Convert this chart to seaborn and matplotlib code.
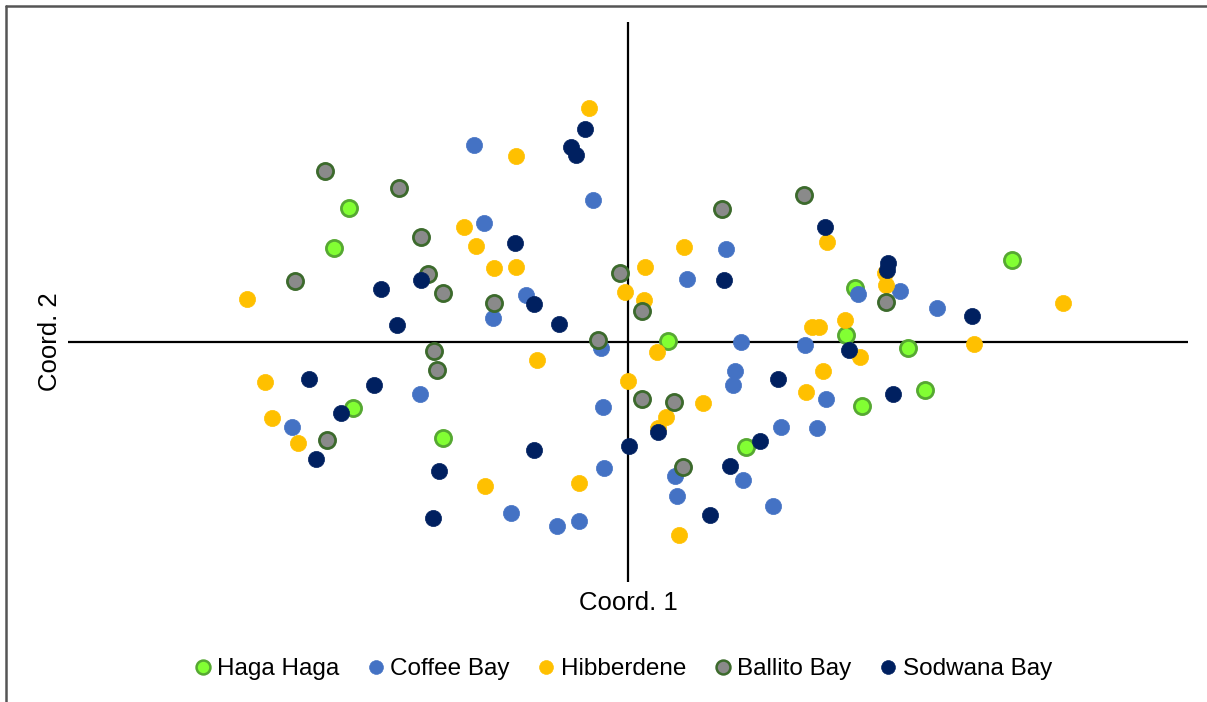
import numpy as np
import pandas as pd
import matplotlib
matplotlib.use("Agg")
import matplotlib.pyplot as plt
from matplotlib.lines import Line2D
import seaborn as sns

sns.set_theme(style="white")
plt.rcParams["font.family"] = ["Liberation Sans", "DejaVu Sans"]
plt.rcParams["text.color"] = "black"

sites = ["Haga Haga", "Coffee Bay", "Hibberdene", "Ballito Bay", "Sodwana Bay"]

# PCoA scores (Coord. 1, Coord. 2) per site
haga_x = [-2.79, -2.94, 3.84, 2.27, 2.18, 0.40, 2.80, 2.97, 2.34, 1.18, -2.75, -1.85]
haga_y = [1.34, 0.94, 0.82, 0.54, 0.07, 0.01, -0.06, -0.48, -0.64, -1.05, -0.66, -0.96]

coffee_x = [-1.54, -0.35, -1.44, -1.02, -1.35, -0.27, 0.98, 0.59, 2.30, 2.72, 3.09,
            1.13, 1.77, -2.08, -3.36, -0.25, -0.24, -1.17, -0.71, -0.49, 1.07, 1.05,
            1.98, 1.53, 1.89, 0.47, 1.15, 0.49, 1.45]
coffee_y = [1.97, 1.42, 1.19, 0.47, 0.24, -0.06, 0.93, 0.63, 0.48, 0.51, 0.34, 0.00,
            -0.03, -0.52, -0.85, -0.65, -1.26, -1.71, -1.84, -1.79, -0.29, -0.43,
            -0.57, -0.85, -0.86, -1.34, -1.38, -1.54, -1.64]

hibber_x = [-0.39, -1.12, -1.64, -1.52, -1.34, -1.12, -3.81, -0.03, 0.56, 0.17, 0.16,
            1.99, 2.57, 2.58, 4.35, 2.17, 1.84, 1.91, 0.29, 2.32, 3.46, 1.95, 1.78,
            0.75, 0.00, 0.38, 0.30, 0.51, -3.63, -3.56, -3.30, -0.91, -1.43, -0.49]
hibber_y = [2.34, 1.86, 1.15, 0.96, 0.74, 0.75, 0.43, 0.50, 0.95, 0.75, 0.42, 1.00,
            0.69, 0.57, 0.39, 0.22, 0.15, 0.15, -0.10, -0.15, -0.02, -0.29, -0.50,
            -0.61, -0.39, -0.75, -0.86, -1.93, -0.40, -0.76, -1.01, -0.18, -1.44, -1.41]

ballito_x = [-3.03, -2.29, -2.07, -2.00, -1.85, -1.34, -3.33, -0.08, -0.30, 0.94,
             1.76, 0.14, 2.58, -1.94, -1.91, -3.01, 0.14, 0.46, 0.55]
ballito_y = [1.71, 1.54, 1.05, 0.68, 0.49, 0.39, 0.61, 0.69, 0.02, 1.33, 1.47, 0.31,
             0.40, -0.09, -0.28, -0.98, -0.57, -0.60, -1.25]

sodwana_x = [-0.43, -0.57, -0.52, -1.13, -2.47, -2.07, -0.94, -2.31, -0.69, 1.97,
             0.96, 2.60, 2.59, 3.44, 2.21, 1.50, 2.65, 1.32, 1.02, 0.82, 0.30, 0.01,
             -3.19, -2.54, -2.87, -3.12, -1.89, -1.95, -0.94]
sodwana_y = [2.13, 1.95, 1.87, 0.99, 0.53, 0.62, 0.38, 0.17, 0.18, 1.15, 0.62, 0.79,
             0.72, 0.26, -0.08, -0.37, -0.52, -0.99, -1.24, -1.73, -0.90, -1.04,
             -0.37, -0.43, -0.71, -1.17, -1.29, -1.76, -1.08]

coords = {
    "Haga Haga": (haga_x, haga_y),
    "Coffee Bay": (coffee_x, coffee_y),
    "Hibberdene": (hibber_x, hibber_y),
    "Ballito Bay": (ballito_x, ballito_y),
    "Sodwana Bay": (sodwana_x, sodwana_y),
}

df = pd.concat(
    [pd.DataFrame({"Coord. 1": xs, "Coord. 2": ys, "Site": s}) for s, (xs, ys) in coords.items()],
    ignore_index=True,
)

fill = {
    "Haga Haga": "#82FF33",
    "Coffee Bay": "#4472C4",
    "Hibberdene": "#FFC000",
    "Ballito Bay": "#8A8A8A",
    "Sodwana Bay": "#002060",
}
edge = {
    "Haga Haga": "#56A832",
    "Coffee Bay": "#4472C4",
    "Hibberdene": "#FFC000",
    "Ballito Bay": "#3C6A2C",
    "Sodwana Bay": "#002060",
}
lw = {"Haga Haga": 2.0, "Coffee Bay": 0.5, "Hibberdene": 0.5, "Ballito Bay": 2.0, "Sodwana Bay": 0.5}

fig = plt.figure(figsize=(12.07, 7.02), dpi=100)
ax = fig.add_axes([68 / 1207, 1 - 582 / 702, (1188 - 68) / 1207, (582 - 22) / 702])

for s in sites:
    sns.scatterplot(
        data=df[df["Site"] == s], x="Coord. 1", y="Coord. 2",
        color=fill[s], edgecolor=edge[s], linewidth=lw[s], s=135, ax=ax, zorder=3,
    )

ax.set_xlim(-5.60, 5.60)
ax.set_ylim(-2.40, 3.20)
ax.axhline(0, color="black", lw=1.6, zorder=2)
ax.axvline(0, color="black", lw=1.6, zorder=2)
for sp in ax.spines.values():
    sp.set_visible(False)
ax.set_xticks([])
ax.set_yticks([])
ax.set_xlabel("")
ax.set_ylabel("")

fig.text(628 / 1207, 1 - 603 / 702, "Coord. 1", ha="center", va="center", fontsize=18.5,
         color="black")
fig.text(50 / 1207, 1 - 342 / 702, "Coord. 2", ha="center", va="center", fontsize=18.5,
         rotation=90, color="black")

handles = [
    Line2D([], [], ls="", marker="o", markersize=10, markerfacecolor=fill[s],
           markeredgecolor=edge[s], markeredgewidth=lw[s] * 0.9)
    for s in sites
]
leg = fig.legend(handles, sites, loc="center", bbox_to_anchor=(620 / 1207, 1 - 669 / 702),
                 ncol=5, frameon=False, fontsize=17.5, handletextpad=0.0,
                 columnspacing=0.9, handlelength=1.2)
for t in leg.get_texts():
    t.set_color("black")

# frame lines along the left and top edges of the figure
fig.add_artist(Line2D([6 / 1207, 6 / 1207], [0, 1 - 6 / 702], color="#555555", lw=1.8,
                      transform=fig.transFigure))
fig.add_artist(Line2D([6 / 1207, 1], [1 - 6 / 702, 1 - 6 / 702], color="#555555", lw=1.8,
                      transform=fig.transFigure))

fig.savefig("out.png", dpi=100, facecolor="white")
